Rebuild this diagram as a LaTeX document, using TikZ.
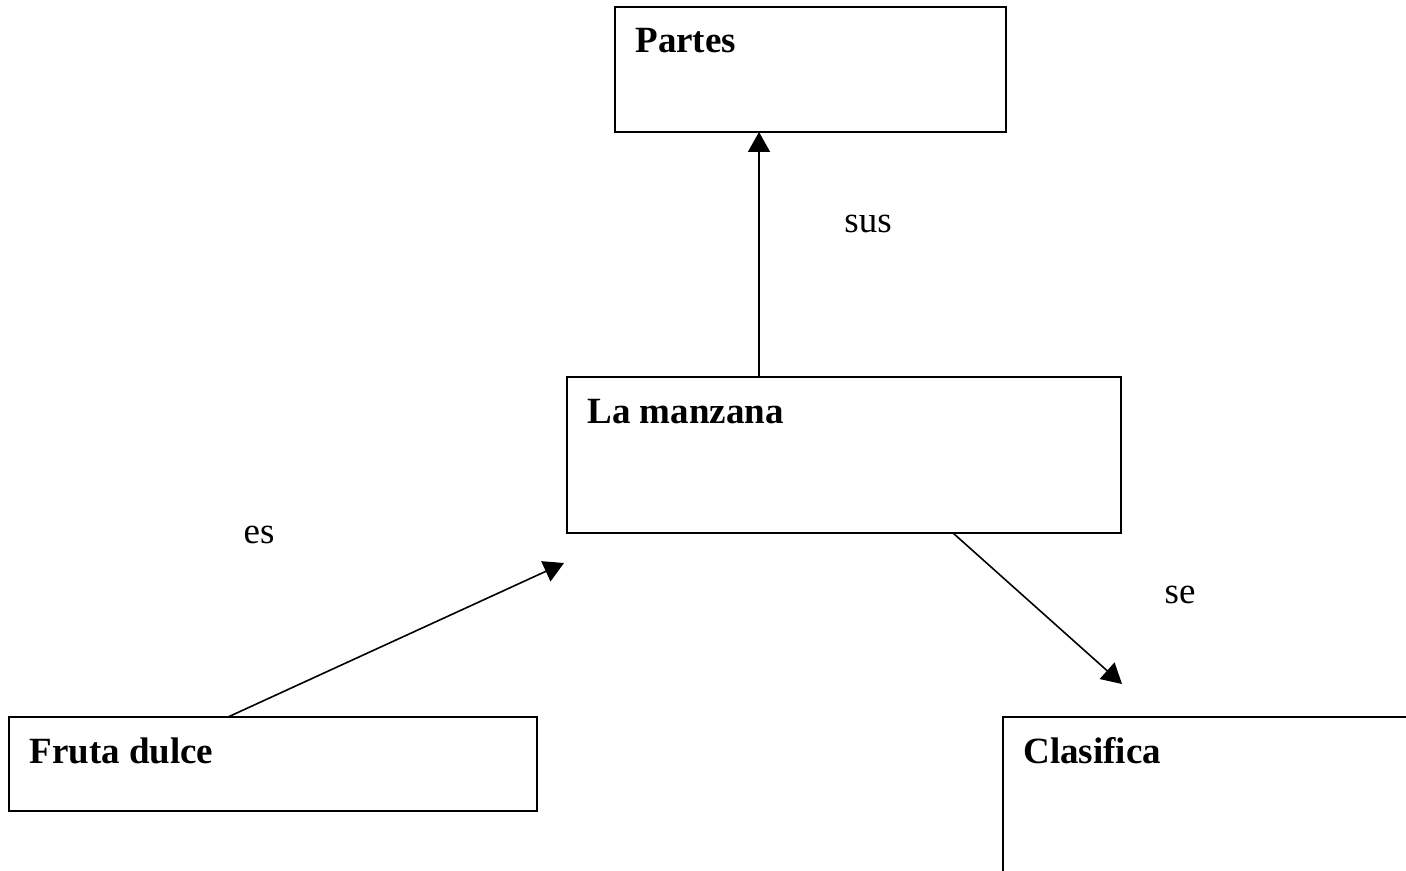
\documentclass[tikz,border=0pt]{standalone}
\usepackage{fontspec}
\setmainfont{Liberation Serif}
\usepackage{tikz}
\usetikzlibrary{arrows.meta,calc}

\tikzset{
  caja/.style={draw, line width=1pt, inner sep=0pt, outer sep=0pt, anchor=north west},
  titulo/.style={anchor=base west, inner sep=0pt, font=\fontsize{18.5}{22}\selectfont\bfseries},
  etiqueta/.style={inner sep=0pt, font=\fontsize{18.5}{22}\selectfont},
  flecha/.style={line width=0.8pt, -{Triangle[length=10pt,width=11pt]}}
}

\begin{document}
\begin{tikzpicture}[x=0.5pt,y=-0.5pt]
    \useasboundingbox (0,0) rectangle (1406,871);
    \clip (0,0) rectangle (1406,871);

    \node[caja, minimum width=195.5pt, minimum height=62.5pt] (partes) at (615,7) {};
    \node[caja, minimum width=277pt, minimum height=78pt] (manzana) at (567,377) {};
    \node[caja, minimum width=264pt, minimum height=47pt] (fruta) at (9,717) {};
    \node[caja, minimum width=250pt, minimum height=100pt] (clasifica) at (1003,717) {};

    \foreach \caja/\texto in {partes/Partes,manzana/La manzana,fruta/Fruta dulce,clasifica/Clasifica}
    \node[titulo] (t\caja) at ($(\caja.north west)+(20,46)$) {\texto};

    \node[etiqueta] (sus) at (868,224) {sus};
    \node[etiqueta] (es) at (259,535) {es};
    \node[etiqueta] (se) at (1180,595) {se};

    \coordinate (finEs) at (564,563);
    \coordinate (finSe) at (1122,684);

    \draw[flecha] ($(manzana.north west)+(192,0)$) -- ($(partes.south west)+(144,0)$);
    \draw[flecha] ($(fruta.north west)+(219,0)$) -- (finEs);
    \draw[flecha] ($(manzana.south west)+(386,0)$) -- (finSe);
\end{tikzpicture}
\end{document}
